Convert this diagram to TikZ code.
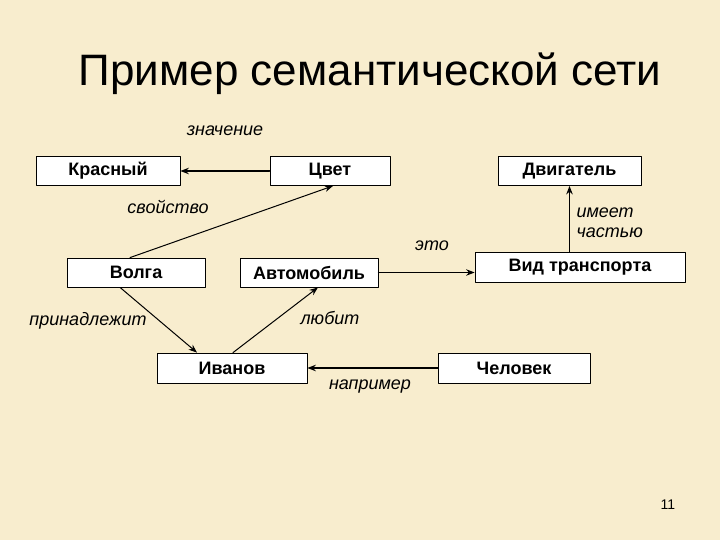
\documentclass[tikz,border=0pt]{standalone}
\usepackage{fontspec}
\setmainfont{Liberation Sans}
\usetikzlibrary{arrows.meta,calc}

\definecolor{parchment}{RGB}{248,237,206}

\begin{document}
\begin{tikzpicture}[x=1pt,y=-1pt,>={Stealth[length=8.5pt,width=6.5pt]},line cap=round,line join=round,
    box/.style={draw=black,line width=0.8pt,fill=white,minimum height=29pt,inner sep=0pt,font=\fontsize{18}{20}\selectfont\bfseries},
    rel/.style={font=\fontsize{18}{20}\selectfont\itshape},
    link/.style={->,line width=1.2pt}]
  % --- slide background ---
  \fill[parchment] (0,0) rectangle (720,540);
  \useasboundingbox (0,0) rectangle (720,540);

  % --- title and page number ---
  \node[anchor=base,font=\fontsize{44}{48}\selectfont] (title) at (370,86) {Пример семантической сети};
  \node[font=\fontsize{14}{16}\selectfont] (pnum) at (668,505) {11};

  % --- concepts ---
  \node[box,minimum width=144pt] (krasny) at (108,171) {Красный};
  \node[box,minimum width=120pt] (cvet)   at (330,171) {Цвет};
  \node[box,minimum width=143pt] (dvig)   at (569.5,171) {Двигатель};
  \node[box,minimum width=210pt,minimum height=30pt] (vid) at (580,267) {Вид транспорта};
  \node[box,minimum width=138pt] (volga)  at (136,272.5) {Волга};
  \node[box,minimum width=138pt] (avto)   at (309,272.5) {Автомобиль};
  \node[box,minimum width=150pt,minimum height=30pt] (ivanov) at (232,368) {Иванов};
  \node[box,minimum width=152pt,minimum height=30pt] (chel)   at (514,368) {Человек};

  % --- relations ---
  \draw[link] (cvet.west) -- (krasny.east);
  \draw[link,line width=1pt] ([xshift=-6pt]volga.north) -- ([xshift=3pt]cvet.south);
  \draw[link] (avto.east) -- (avto.east -| vid.west);
  \draw[link] (dvig.south |- vid.north) -- (dvig.south);
  \draw[link,line width=1pt] ([xshift=-16pt]volga.south) -- ([xshift=-35pt]ivanov.north);
  \draw[link,line width=1pt] ([xshift=1pt]ivanov.north) -- ([xshift=9pt]avto.south);
  \draw[link] (chel.west) -- (ivanov.east);

  % --- relation labels ---
  \node[rel] (lznach) at (225,131) {значение};
  \node[rel] (lsvoj)  at (168,207) {свойство};
  \node[rel] (leto)   at (432,246) {это};
  \node[rel,anchor=west,align=left] (lchast) at (573,223) {имеет\\частью};
  \node[rel] (lprin)  at (88,321)  {принадлежит};
  \node[rel] (llub)   at (330,318) {любит};
  \node[rel] (lnapr)  at (370,387) {например};
\end{tikzpicture}
\end{document}
